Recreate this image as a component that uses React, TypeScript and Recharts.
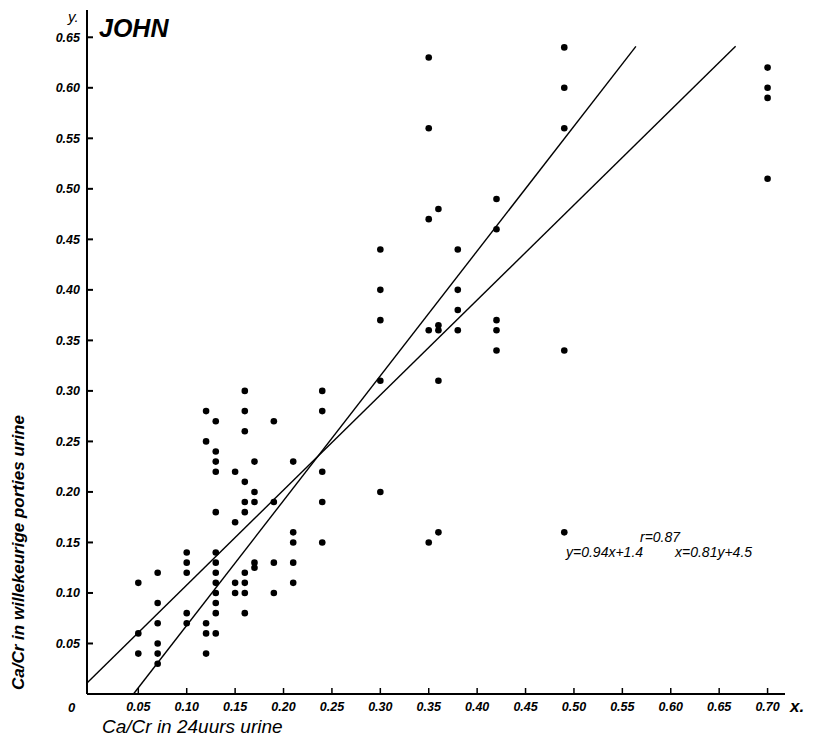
import React from "react";
import { ScatterChart, Scatter, XAxis, YAxis, ReferenceLine } from "recharts";

// x columns (Ca/Cr in 24-hour urine)
const columnX = [0.05, 0.07, 0.1, 0.12, 0.13, 0.15, 0.16, 0.17, 0.19, 0.21, 0.24, 0.3, 0.35, 0.36, 0.38, 0.42, 0.49, 0.7];
// y values for each column (Ca/Cr in random urine portions)
const col005 = [0.11, 0.06, 0.04];
const col007 = [0.12, 0.09, 0.07, 0.05, 0.04, 0.03];
const col010 = [0.14, 0.13, 0.12, 0.08, 0.07];
const col012 = [0.28, 0.25, 0.07, 0.06, 0.04];
const col013 = [0.27, 0.24, 0.23, 0.22, 0.18, 0.14, 0.13, 0.12, 0.11, 0.1, 0.09, 0.08, 0.06];
const col015 = [0.22, 0.17, 0.11, 0.1];
const col016 = [0.3, 0.28, 0.26, 0.21, 0.19, 0.18, 0.12, 0.11, 0.1, 0.08];
const col017 = [0.23, 0.2, 0.19, 0.13, 0.125];
const col019 = [0.27, 0.19, 0.13, 0.1];
const col021 = [0.23, 0.16, 0.15, 0.13, 0.11];
const col024 = [0.3, 0.28, 0.22, 0.19, 0.15];
const col030 = [0.44, 0.4, 0.37, 0.31, 0.2];
const col035 = [0.63, 0.56, 0.47, 0.36, 0.15];
const col036 = [0.48, 0.365, 0.36, 0.31, 0.16];
const col038 = [0.44, 0.4, 0.38, 0.36];
const col042 = [0.49, 0.46, 0.37, 0.36, 0.34];
const col049 = [0.64, 0.6, 0.56, 0.34, 0.16];
const col070 = [0.62, 0.6, 0.59, 0.51];
const columnY = [col005, col007, col010, col012, col013, col015, col016, col017, col019, col021, col024, col030, col035, col036, col038, col042, col049, col070];

const xTicks = [0.05, 0.1, 0.15, 0.2, 0.25, 0.3, 0.35, 0.4, 0.45, 0.5, 0.55, 0.6, 0.65, 0.7];
const yTicks = [0.05, 0.1, 0.15, 0.2, 0.25, 0.3, 0.35, 0.4, 0.45, 0.5, 0.55, 0.6, 0.65];

// regression lines: y = 0.94x + 0.014 ; x = 0.81y + 0.045
const lineYonX = [{ x: -0.003, y: 0.011 }, { x: 0.667, y: 0.641 }];
const lineXonY = [{ x: 0.045, y: 0 }, { x: 0.564, y: 0.641 }];

const X_DOMAIN: [number, number] = [-0.003, 0.718];
const Y_DOMAIN: [number, number] = [0, 0.677];

const points = columnX.flatMap((x, i) => columnY[i].map((y) => ({ x, y })));

const FONT = "'Liberation Sans', Arial, sans-serif";
const tickStyle = { fill: "#000", fontSize: 12.5, fontStyle: "italic", fontWeight: "bold", fontFamily: FONT };
const fmt = (v: number) => Number(v).toFixed(2);

const Dot = (props: any) => <circle cx={props.cx} cy={props.cy} r={3.3} fill="#000" />;

const base: React.CSSProperties = {
  position: "absolute",
  fontFamily: FONT,
  fontStyle: "italic",
  lineHeight: 1,
  whiteSpace: "nowrap",
  color: "#000",
  margin: 0,
};

const Txt = ({ x, b, fs, bold, children }: any) => (
  <div style={{ ...base, left: x, top: b - 0.847 * fs, fontSize: fs, fontWeight: bold ? "bold" : "normal" }}>{children}</div>
);

export default function App() {
  return (
    <div style={{ position: "relative", width: 818, height: 735, background: "#fff" }}>
      <ScatterChart width={818} height={735} margin={{ top: 2, right: 41, bottom: 0, left: 0 }}>
        <XAxis
          type="number"
          dataKey="x"
          domain={X_DOMAIN}
          ticks={xTicks}
          tick={tickStyle}
          tickFormatter={fmt}
          interval={0}
          tickLine={{ stroke: "#000", strokeWidth: 1.5 }}
          tickSize={-6}
          tickMargin={14}
          height={49}
          axisLine={{ stroke: "#000", strokeWidth: 2 }}
        />
        <YAxis
          type="number"
          dataKey="y"
          domain={Y_DOMAIN}
          ticks={yTicks}
          tick={tickStyle}
          tickFormatter={fmt}
          interval={0}
          tickLine={{ stroke: "#000", strokeWidth: 2 }}
          tickSize={-6}
          tickMargin={13}
          width={79}
          axisLine={{ stroke: "#000", strokeWidth: 2 }}
        />
        <ReferenceLine segment={lineYonX} stroke="#000" strokeWidth={1.4} />
        <ReferenceLine segment={lineXonY} stroke="#000" strokeWidth={1.4} />
        <Scatter data={points} shape={<Dot />} isAnimationActive={false} />
      </ScatterChart>
      <Txt x={91} b={29} fs={25} bold>JOHN</Txt>
      <Txt x={60} b={14} fs={15}>y.</Txt>
      <Txt x={782} b={704} fs={17} bold>x.</Txt>
      <Txt x={60} b={704} fs={13} bold>0</Txt>
      <Txt x={94} b={725} fs={19}>Ca/Cr in 24uurs urine</Txt>
      <Txt x={632} b={534} fs={14}>r=0.87</Txt>
      <Txt x={558} b={549} fs={14}>y=0.94x+1.4</Txt>
      <Txt x={667} b={549} fs={14}>x=0.81y+4.5</Txt>
      <div
        style={{
          ...base,
          left: 10.1 - 200,
          top: 544 - 8.5,
          width: 400,
          height: 17,
          fontSize: 17,
          fontWeight: "bold",
          textAlign: "center",
          transform: "rotate(-90deg)",
          transformOrigin: "50% 50%",
        }}
      >
        Ca/Cr in willekeurige porties urine
      </div>
    </div>
  );
}
